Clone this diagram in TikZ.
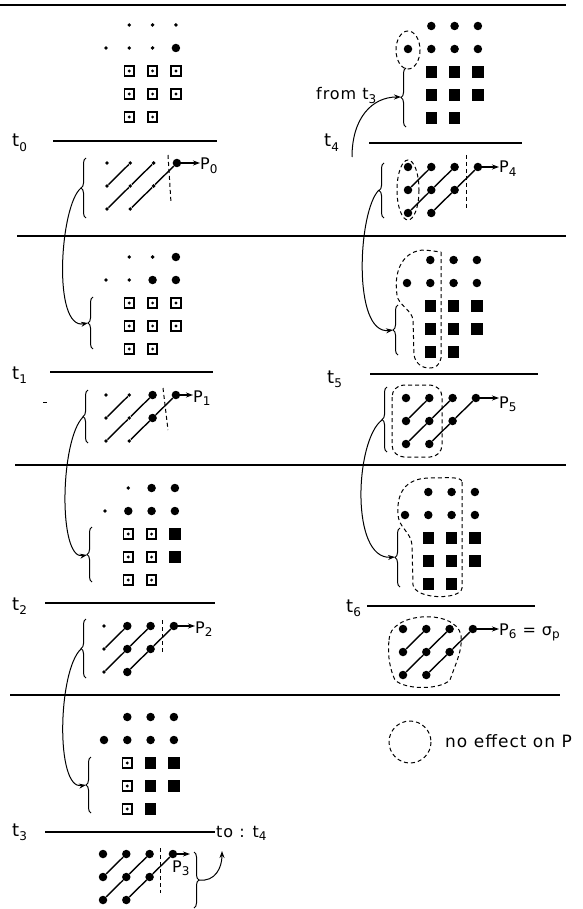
\documentclass[tikz,border=0pt]{standalone}
\usepackage{fontspec}
\setmainfont{DejaVu Sans}[LetterSpace=6]
\usetikzlibrary{arrows.meta,decorations.pathreplacing}
\newcommand\lsub[1]{\raisebox{-0.45ex}{\fontsize{12}{12}\selectfont #1}}
% grid and lattice contents: c/r/style
\def\GA{1/1/sd,2/1/sd,3/1/sd,0/2/sd,1/2/sd,2/2/sd,3/2/bd,1/3/osq,2/3/osq,3/3/osq,1/4/osq,2/4/osq,3/4/osq,1/5/osq,2/5/osq}
\def\GB{1/1/sd,2/1/sd,3/1/bd,0/2/sd,1/2/sd,2/2/bd,3/2/bd,1/3/osq,2/3/osq,3/3/osq,1/4/osq,2/4/osq,3/4/osq,1/5/osq,2/5/osq}
\def\GC{1/1/sd,2/1/bd,3/1/bd,0/2/sd,1/2/bd,2/2/bd,3/2/bd,1/3/osq,2/3/osq,3/3/fsq,1/4/osq,2/4/osq,3/4/fsq,1/5/osq,2/5/osq}
\def\GD{1/1/bd,2/1/bd,3/1/bd,0/2/bd,1/2/bd,2/2/bd,3/2/bd,1/3/osq,2/3/fsq,3/3/fsq,1/4/osq,2/4/fsq,3/4/fsq,1/5/osq,2/5/fsq}
\def\GE{1/1/bd,2/1/bd,3/1/bd,0/2/bd,1/2/bd,2/2/bd,3/2/bd,1/3/fsq,2/3/fsq,3/3/fsq,1/4/fsq,2/4/fsq,3/4/fsq,1/5/fsq,2/5/fsq}
\def\LA{0/1/sd,1/1/sd,2/1/sd,3/1/bd,0/2/sd,1/2/sd,2/2/sd,0/3/sd,1/3/sd}
\def\LB{0/1/sd,1/1/sd,2/1/bd,3/1/bd,0/2/sd,1/2/sd,2/2/bd,0/3/sd,1/3/sd}
\def\LC{0/1/sd,1/1/bd,2/1/bd,3/1/bd,0/2/sd,1/2/bd,2/2/bd,0/3/sd,1/3/bd}
\def\LD{0/1/bd,1/1/bd,2/1/bd,3/1/bd,0/2/bd,1/2/bd,2/2/bd,0/3/bd,1/3/bd}
\newcommand\gridp[4]{%
  \foreach \c/\r/\s in #4 {\node[\s] (#1-\r\c) at ({#2+\c*23.3},{#3+(\r-1)*23}) {};}}
\newcommand\latp[4]{%
  \foreach \c/\r/\s in #4 {\node[\s] (#1-\r\c) at ({#2+\c*23.3},{#3+(\r-1)*23}) {};}
  \draw[lat] (#1-20) -- (#1-11);
  \draw[lat] (#1-30) -- (#1-21) -- (#1-12);
  \draw[lat] (#1-31) -- (#1-22) -- (#1-13);}
\begin{document}
\begin{tikzpicture}[x=1pt,y=-1pt,
  sd/.style={circle,fill,inner sep=0,minimum size=3.8},
  bd/.style={circle,fill,inner sep=0,minimum size=8.5},
  osq/.style={rectangle,draw,line width=1.8,inner sep=0,minimum size=9.5,
    path picture={\fill (path picture bounding box.center) circle (1.6pt);}},
  fsq/.style={rectangle,draw,fill,line width=1.8,inner sep=0,minimum size=9.5},
  lat/.style={line width=1.4},
  sepline/.style={line width=1.6},
  tline/.style={line width=1.5},
  dsh/.style={dash pattern=on 4pt off 3pt,line width=1},
  brc/.style={decorate,decoration={brace,amplitude=5pt},line width=1},
  carr/.style={line width=1,-{Stealth[length=7pt,width=5pt]}},
  parr/.style={line width=1.3,-{Stealth[length=7pt,width=5pt]}},
  tlab/.style={inner sep=0,anchor=base west,font=\fontsize{18}{20}\selectfont},
  plab/.style={inner sep=0,anchor=base west,font=\fontsize{16}{18}\selectfont},
  txt/.style={inner sep=0,anchor=base west,font=\fontsize{16}{18}\selectfont}]
\useasboundingbox (0,0) rectangle (582,909);

% separators
\draw[line width=2] (0,5) -- (566,5);
\draw[sepline] (17,236) -- (566,236);
\draw[sepline] (15,465) -- (566,465);
\draw[sepline] (10,695) -- (560,695);

% time lines
\draw[tline] (53,141) -- (217,141);
\draw[tline] (50,372) -- (213,372);
\draw[tline] (45,603) -- (215,603);
\draw[tline] (45,832) -- (215,832);
\draw[tline] (369,143) -- (522,143);
\draw[tline] (370,374) -- (538,374);
\draw[tline] (367,606) -- (535,606);

\node[tlab] (t0) at (12,147) {t\lsub{0}};
\node[tlab] (t1) at (12,379) {t\lsub{1}};
\node[tlab] (t2) at (12,610) {t\lsub{2}};
\node[tlab] (t3) at (12,836) {t\lsub{3}};
\node[tlab] (t4) at (324,147) {t\lsub{4}};
\node[tlab] (t5) at (327,383) {t\lsub{5}};
\node[tlab] (t6) at (346,612) {t\lsub{6}};

% grids
\gridp{GA}{106}{25}{\GA}
\gridp{GB}{106}{257}{\GB}
\gridp{GC}{105}{488}{\GC}
\gridp{GD}{104}{717}{\GD}
\gridp{GE}{408}{26}{\GE}
\gridp{GF}{407}{260}{\GE}
\gridp{GG}{405}{492}{\GE}

% lattices
\latp{LA}{107}{163}{\LA}
\latp{LB}{106}{395}{\LB}
\latp{LC}{104}{626}{\LC}
\latp{LD}{103}{854}{\LD}
\latp{LE}{408}{167}{\LD}
\latp{LF}{406}{398}{\LD}
\latp{LG}{403}{629}{\LD}

% P labels and arrows
\node[plab] (P0) at (200,170) {P\lsub{0}};
\node[plab] (P1) at (193,402) {P\lsub{1}};
\node[plab] (P2) at (195,633) {P\lsub{2}};
\node[plab] (P3) at (172,872) {P\lsub{3}};
\node[plab] (P4) at (499,173) {P\lsub{4}};
\node[plab] (P5) at (499,408) {P\lsub{5}};
\node[plab] (P6) at (499,635) {P\lsub{6} = σ\lsub{p}};
\draw[parr] (LA-13) -- (LA-13 -| P0.west);
\draw[parr] (LB-13) -- (LB-13 -| P1.west);
\draw[parr] (LC-13) -- (LC-13 -| P2.west);
\coordinate (p3e) at (190,854);
\draw[parr] (LD-13) -- (p3e);
\draw[parr] (LE-13) -- (LE-13 -| P4.west);
\draw[parr] (LF-13) -- (LF-13 -| P5.west);
\draw[parr] (LG-13) -- (LG-13 -| P6.west);

% dashed cut lines
\draw[dsh] (168,155) -- (171,203);
\draw[dsh] (163,388) -- (168,430);
\draw[dsh] (162,620) -- (162,653);
\draw[dsh] (160,848) -- (160,893);
\draw[dsh] (466,155) -- (466,208);

% braces
\draw[brc] (86,218) -- (86,158);   \coordinate (b0) at (81,188);
\draw[brc] (93,349) -- (93,297);   \coordinate (g1) at (88,323);
\draw[brc] (88,443) -- (88,390);   \coordinate (b1) at (83,417);
\draw[brc] (92,582) -- (92,527);   \coordinate (g2) at (87,555);
\draw[brc] (86,678) -- (86,619);   \coordinate (b2) at (81,649);
\draw[brc] (91,813) -- (91,757);   \coordinate (g3) at (86,785);
\draw[brc] (194,852) -- (194,908); \coordinate (b3) at (199,880);
\draw[brc] (406,127) -- (406,68);  \coordinate (g4) at (401,97);
\draw[brc] (384,218) -- (384,163); \coordinate (b4) at (379,190);
\draw[brc] (398,355) -- (398,305); \coordinate (g5) at (393,330);
\draw[brc] (387,452) -- (387,387); \coordinate (b5) at (382,420);
\draw[brc] (400,587) -- (400,528); \coordinate (g6) at (395,557);

% connecting curves
\draw[carr] (b0) .. controls (60,205) and (52,330) .. (g1);
\draw[carr] (b1) .. controls (60,440) and (58,560) .. (g2);
\draw[carr] (b2) .. controls (58,670) and (55,790) .. (g3);
\draw[carr] (b4) .. controls (358,210) and (352,335) .. (g5);
\draw[carr] (b5) .. controls (355,440) and (350,560) .. (g6);
\coordinate (ft) at (352,157);
\draw[carr] (ft) .. controls (352,118) and (372,97) .. (g4);
\coordinate (tt) at (222,851);
\draw[carr] (b3) .. controls (215,882) and (222,868) .. (tt);

% texts
\node[txt] (from) at (316,100) {from t\lsub{3}};
\node[txt] (to) at (216,837) {to : t\lsub{4}};
\draw[line width=1] (43,402) -- (47,402);

% dashed enclosures
\draw[dsh] (408,50) ellipse (12 and 19);
\draw[dsh] (408,190) ellipse (11 and 30);
\draw[dsh] (441,252) -- (441,358) .. controls (440,372) and (417,372) .. (414,355)
  -- (413,320) .. controls (412,310) and (398,305) .. (397,295)
  .. controls (393,268) and (405,250) .. (425,250) -- cycle;
\draw[dsh, rounded corners=12] (392,385) rectangle (442,457);
\draw[dsh] (462,482) -- (462,588) .. controls (461,600) and (416,600) .. (413,585)
  -- (412,545) .. controls (411,532) and (399,528) .. (398,515)
  .. controls (396,488) and (410,478) .. (430,478) .. controls (445,478) and (462,476) .. cycle;
\draw[dsh] (389,640) .. controls (389,612) and (455,608) .. (461,635)
  .. controls (463,650) and (455,665) .. (450,680)
  .. controls (440,690) and (405,690) .. (395,680)
  .. controls (388,665) and (388,650) .. (389,640);

% legend
\draw[dsh] (410,742) circle (21);
\node[txt,font=\fontsize{17}{19}\selectfont] (legend) at (445,747) {no effect on P};
\end{tikzpicture}
\end{document}
